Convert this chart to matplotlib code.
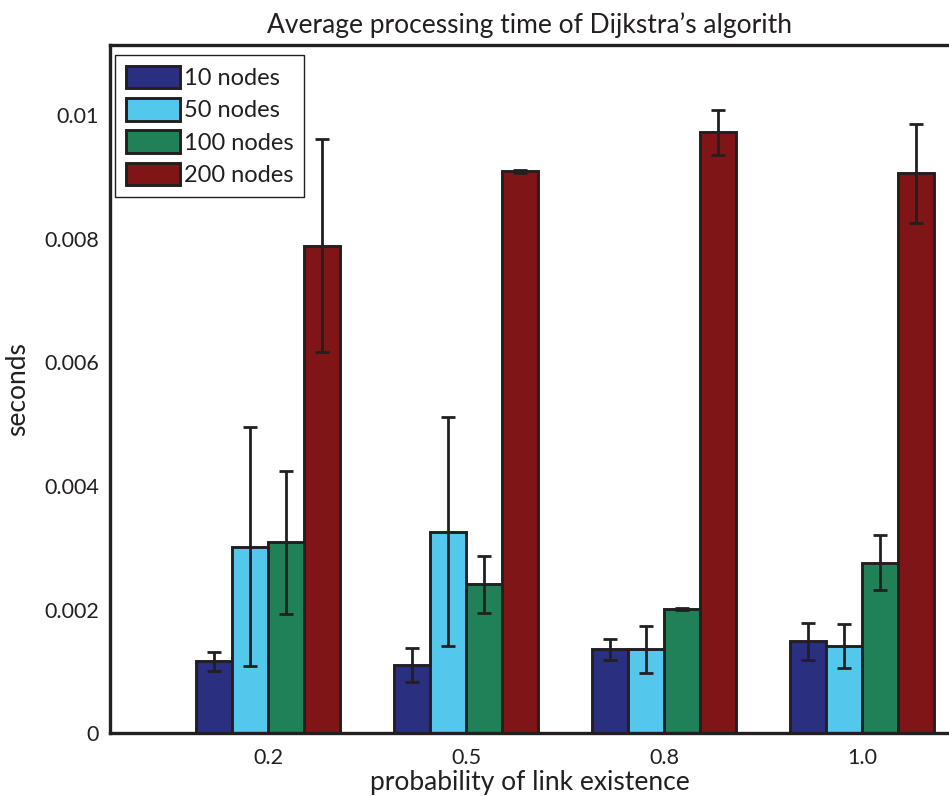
import numpy as np
import matplotlib.pyplot as plt

plt.rcParams['font.family'] = ['Lato', 'DejaVu Sans']

probabilities = ['0.2', '0.5', '0.8', '1.0']
series_labels = ['10 nodes', '50 nodes', '100 nodes', '200 nodes']

# mean processing time (seconds) per node count, one value per probability
t10 = [0.00116, 0.00110, 0.00136, 0.00149]
t50 = [0.00302, 0.00326, 0.00136, 0.00141]
t100 = [0.00309, 0.00241, 0.00201, 0.00276]
t200 = [0.00789, 0.00909, 0.00972, 0.00906]

# standard deviation for the error bars
e10 = [0.00015, 0.00028, 0.00017, 0.00030]
e50 = [0.00193, 0.00185, 0.00038, 0.00036]
e100 = [0.00116, 0.00046, 0.00002, 0.00044]
e200 = [0.00172, 0.00003, 0.00036, 0.00080]

colors = ['#2b2f80', '#53c8ec', '#208058', '#801518']
edge = '#231f20'

means = [t10, t50, t100, t200]
errs = [e10, e50, e100, e200]

fig = plt.figure(figsize=(9.49, 7.96), dpi=100)
ax = fig.add_axes([0.116, 0.079, 0.884, 0.864])

x = np.arange(len(probabilities))
w = 0.182
for i, (m, e) in enumerate(zip(means, errs)):
    ax.bar(x + (i - 1.5) * w, m, w, color=colors[i], edgecolor=edge,
           linewidth=2.1, label=series_labels[i], zorder=2)
    ax.errorbar(x + (i - 1.5) * w, m, yerr=e, fmt='none', ecolor=edge,
                elinewidth=2.0, capsize=5, capthick=2.0, zorder=3)

ax.set_xlim(-0.80, 3.44)
ax.set_ylim(0, 0.01113)
ax.set_xticks(x)
ax.set_xticklabels(probabilities)
ax.set_yticks([0, 0.002, 0.004, 0.006, 0.008, 0.01])
ax.set_yticklabels(['0', '0.002', '0.004', '0.006', '0.008', '0.01'])
ax.tick_params(length=0, labelsize=15.5, colors='#231f20', pad=8)
ax.tick_params(axis='x', pad=11)

for side in ['left', 'bottom', 'top']:
    ax.spines[side].set_linewidth(2.4)
    ax.spines[side].set_color(edge)
ax.spines['right'].set_visible(False)

ax.set_xlabel('probability of link existence', fontsize=19, color='#231f20', labelpad=1)
ax.set_ylabel('seconds', fontsize=19, color='#231f20', labelpad=10)
ax.set_title("Average processing time of Dijkstra\u2019s algorith", fontsize=19,
             color='#231f20', pad=9)

leg = ax.legend(loc='upper left', bbox_to_anchor=(0.006, 0.986), fontsize=17,
                frameon=True, fancybox=False, handlelength=2.3, handleheight=1.1,
                handletextpad=0.15, labelspacing=0.38, borderpad=0.45,
                borderaxespad=0, framealpha=1)
leg.get_frame().set_edgecolor('#231f20')
leg.get_frame().set_linewidth(1.0)
for t in leg.get_texts():
    t.set_color('#231f20')

fig.savefig('out.png', dpi=100)
